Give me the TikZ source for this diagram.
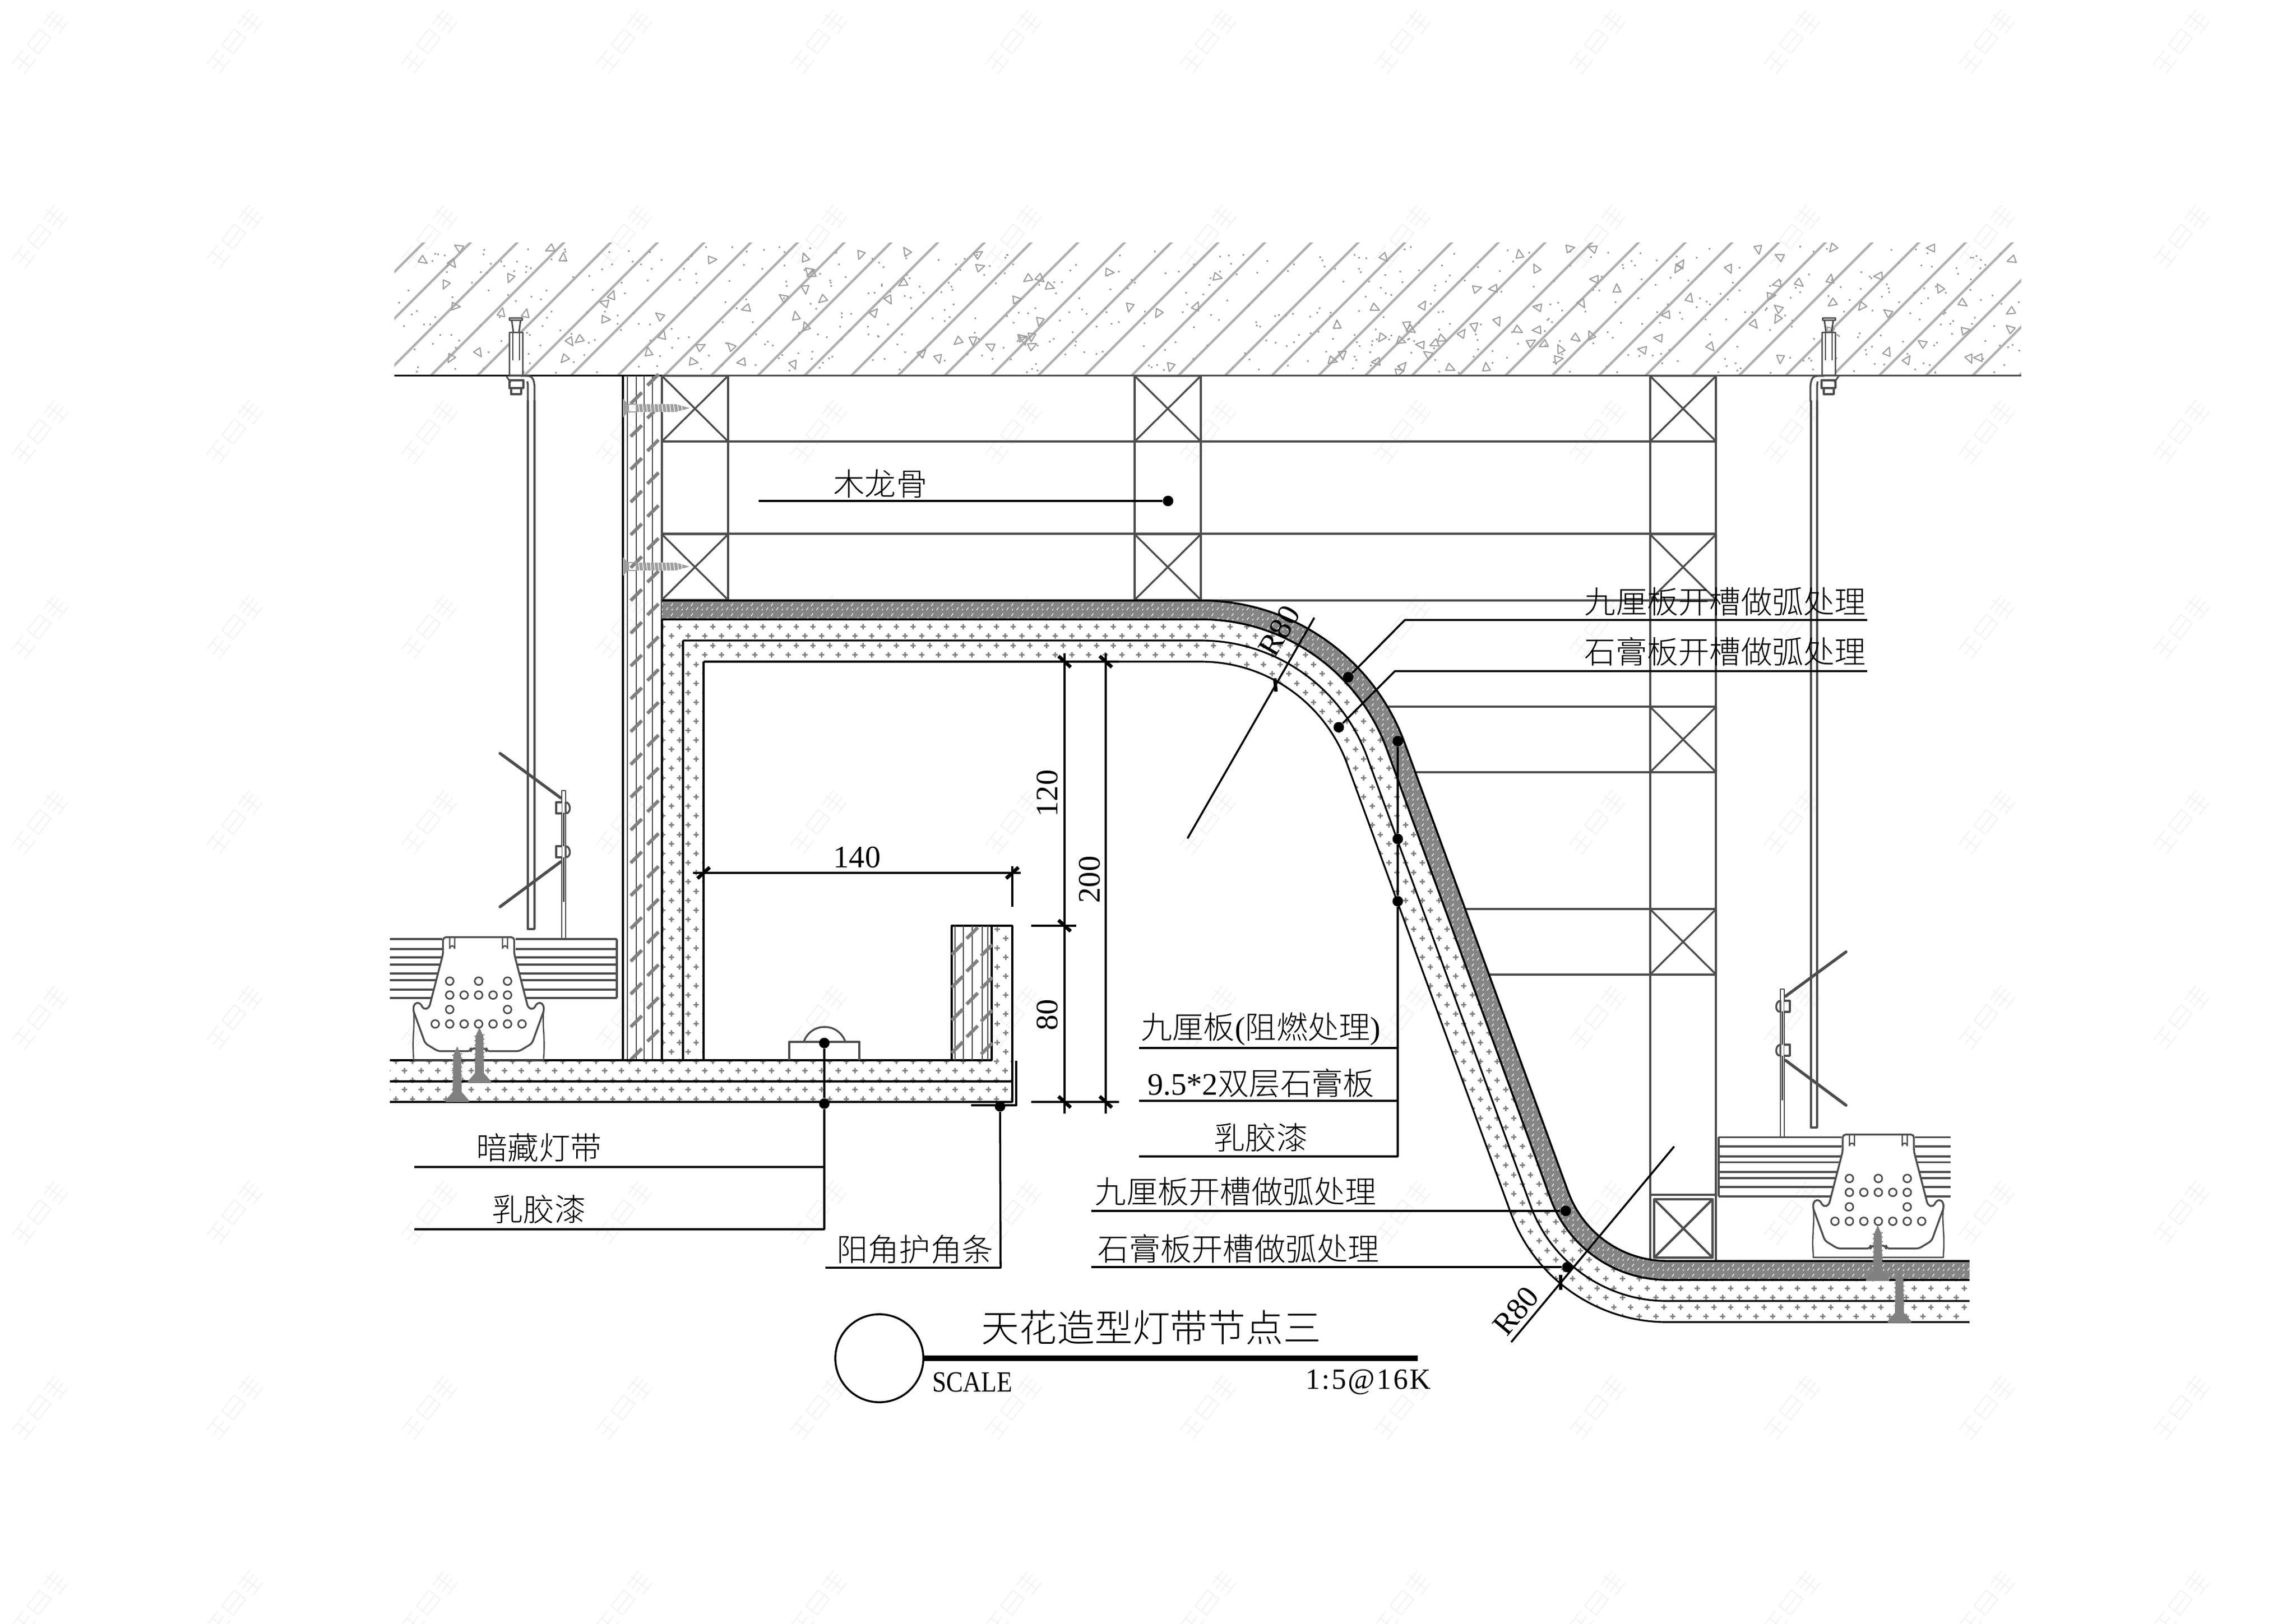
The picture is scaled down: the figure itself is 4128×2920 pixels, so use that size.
\documentclass[tikz,border=0pt]{standalone}
\usepackage{fontspec}
\usetikzlibrary{patterns}
\setmainfont{Liberation Serif}
\newfontfamily\cjk{Noto Sans CJK SC Light}
\newfontfamily\lat{Liberation Serif}
\newfontfamily\latsp[LetterSpace=6]{Liberation Serif}
\definecolor{stud}{HTML}{4D4D4D}
\definecolor{hatchg}{HTML}{B0B0B0}
\definecolor{plusg}{HTML}{808080}
\definecolor{bandg}{HTML}{858585}
\definecolor{wmk}{HTML}{F2F2F2}
\pgfdeclarepatternformonly{gypplus}{\pgfqpoint{0pt}{0pt}}{\pgfqpoint{8.536pt}{9.674pt}}{\pgfqpoint{8.536pt}{9.674pt}}{%
  \pgfsetlinewidth{0.8pt}
  \pgfpathmoveto{\pgfqpoint{0.7pt}{2.4pt}}\pgfpathlineto{\pgfqpoint{3.5pt}{2.4pt}}
  \pgfpathmoveto{\pgfqpoint{2.1pt}{1.0pt}}\pgfpathlineto{\pgfqpoint{2.1pt}{3.8pt}}
  \pgfpathmoveto{\pgfqpoint{4.97pt}{7.24pt}}\pgfpathlineto{\pgfqpoint{7.77pt}{7.24pt}}
  \pgfpathmoveto{\pgfqpoint{6.37pt}{5.84pt}}\pgfpathlineto{\pgfqpoint{6.37pt}{8.64pt}}
  \pgfusepath{stroke}}
\pgfdeclarepatternformonly{bandfleck}{\pgfqpoint{0pt}{0pt}}{\pgfqpoint{5pt}{5pt}}{\pgfqpoint{5pt}{5pt}}{%
  \pgfsetlinewidth{0.35pt}
  \pgfpathmoveto{\pgfqpoint{0.5pt}{0.5pt}}\pgfpathlineto{\pgfqpoint{1.5pt}{1.9pt}}
  \pgfpathmoveto{\pgfqpoint{3.0pt}{2.6pt}}\pgfpathlineto{\pgfqpoint{4.0pt}{4.0pt}}
  \pgfpathmoveto{\pgfqpoint{3.4pt}{0.4pt}}\pgfpathlineto{\pgfqpoint{3.9pt}{1.1pt}}
  \pgfusepath{stroke}}
% S-curve at offset #2, starting at x=#1
\newcommand\Sf[2]{(#1,{1080+#2}) -- (2159,{1080+#2}) arc[start angle=-90,end angle=-20,radius={390-#2}] -- ({2997+(189+#2)*cos(160)},{2079+(189+#2)*sin(160)}) arc[start angle=160,end angle=90,radius={189+#2}] -- (3541,{2268+#2})}
\newcommand\Sr[2]{(3541,{2268+#2}) -- (2997,{2268+#2}) arc[start angle=90,end angle=160,radius={189+#2}] -- ({2159+(390-#2)*cos(-20)},{1470+(390-#2)*sin(-20)}) arc[start angle=-20,end angle=-90,radius={390-#2}] -- (#1,{1080+#2})}
\newcommand\vscrew[3]{%
  \fill[plusg] (#1,#2) -- ({#1+7},{#2+16}) -- ({#1+8},{#3-18}) -- ({#1+21},{#3-3}) -- ({#1+21},#3) -- ({#1-21},#3) -- ({#1-21},{#3-3}) -- ({#1-8},{#3-18}) -- ({#1-7},{#2+16}) -- cycle;
  \foreach \k in {8,16,...,60}{\draw[plusg,line width=.5pt] ({#1-9},{#2+\k+8}) -- ({#1+9},{#2+\k+5});}
}
\newcommand\hscrew[1]{%
  \fill[hatchg!90!black] (1120,{#1-17}) -- (1130,{#1-6}) -- (1130,{#1+6}) -- (1120,{#1+17}) -- cycle;
  \draw[hatchg!90!black,line width=.7pt] (1130,{#1-7}) rectangle (1144,{#1+7});
  \fill[hatchg!90!black] (1144,{#1-7}) -- (1215,{#1-7}) -- (1240,#1) -- (1215,{#1+7}) -- (1144,{#1+7}) -- cycle;
  \foreach \k in {1148,1155,...,1225}{\draw[white,line width=.35pt] (\k,{#1-8}) -- ({\k+2},{#1+8});}
}
\newcommand\woodflecks[4]{% x, ystart, yend, period
  \pgfmathtruncatemacro\yysec{#2+#4}
  \foreach \yy in {#2,\yysec,...,#3}{\draw[plusg,line width=1.7pt] ({#1-10},{\yy+10}) -- ({#1+10},{\yy-10});}
}
\newcommand\dimtickb[2]{\draw[line width=1.8pt] ({#1-11},{#2-10}) -- ({#1+11},{#2+10});}
\newcommand\dimtickf[2]{\draw[line width=1.8pt] ({#1-11},{#2+10}) -- ({#1+11},{#2-10});}
\tikzset{
  blk/.style={black,line width=1pt},
  gry/.style={stud,line width=.95pt},
  spk/.style={hatchg!90!black,line width=.6pt},
  dot/.style={circle,fill=black,draw=none,minimum size=5.4pt,inner sep=0pt},
  cn/.style={font=\cjk\fontsize{16}{16}\selectfont,inner sep=0pt,text=black},
  num/.style={font=\lat\fontsize{16}{16}\selectfont,inner sep=0pt,text=black},
  pics/xstud/.style={code={\draw[gry] (-59.5,-59) rectangle (59.5,59) (-59.5,-59) -- (59.5,59) (-59.5,59) -- (59.5,-59);}},
  pics/watermark/.style={code={
    \draw[wmk,line width=.5pt] (-62,-14) -- (-30,-14) (-62,0) -- (-30,0) (-62,14) -- (-30,14) (-46,-14) -- (-46,14)
      (-18,-14) -- (18,-14) -- (18,12) -- (-18,12) -- cycle (-18,0) -- (18,0)
      (30,-14) -- (62,-14) (30,-4) -- (62,-4) (30,6) -- (62,6) (46,-20) -- (46,18) (32,18) -- (60,18);}},
  pics/channel/.style={code={
    \fill[white] (-66,0) rectangle (66,205);
    \draw[gry,fill=white,rounded corners=1.5pt] (-64,0) -- (-64,30) -- (-89,127) -- (-99,130) -- (-105,118) -- (-115,118) -- (-118,130) -- (-96,191) -- (-73,205) -- (-14,205) -- (-14,200) -- (14,200) -- (14,205) -- (73,205) -- (96,191) -- (118,130) -- (115,118) -- (105,118) -- (99,130) -- (89,127) -- (64,30) -- (64,0) -- cycle;
    \draw[gry,line width=.7pt] (-52,0) -- (-52,20) arc[start angle=180,end angle=360,radius=4.5] -- (-43,0) (43,0) -- (43,20) arc[start angle=180,end angle=360,radius=4.5] -- (52,0);
    \draw[gry,line width=.7pt] (-117,132) .. controls (-114,160) and (-120,180) .. (-117,215) -- (-117,221) -- (117,221) -- (117,215) .. controls (120,180) and (114,160) .. (117,132);
    \foreach \hx/\hy in {-52/79,0/79,52/79,-52/104,-26/104,0/104,26/104,52/104,-52/130,52/130,-78/156,-52/156,-26/156,0/156,26/156,52/156,78/156}{
      \draw[gry,line width=.8pt] (\hx,\hy) circle[radius=7];}
  }},
  pics/bolt/.style={code={
    \draw[gry,line width=.8pt,fill=white] (-12,0) rectangle (11,4) (-8,4) -- (-5,26) (8,4) -- (5,26) (-12,26) rectangle (12,103);
    \draw[gry,line width=.8pt] (-6,26) -- (-6,76) (6,26) -- (6,76);
    \draw[gry,fill=white] (-12,112) rectangle (13,126) (-9,126) rectangle (9,137);
    \draw[gry,line width=.8pt] (-18,104) -- (-10,116);
    \draw[gry] (8,104) -- (20,104) .. controls (30,104) and (32,112) .. (33,122) -- (33,150) (20,114) .. controls (21,118) .. (21,126) -- (21,150);
  }},
  pics/hangerclip/.style={code={
    \draw[stud,line width=.8pt,fill=white] (0,0) rectangle (7,266);
    \foreach \cy in {31,110}{
      \draw[gry,fill=white] (0,{\cy-10}) -- (-10,{\cy-10}) -- (-10,{\cy+10}) -- (0,{\cy+10});
      \draw[gry,fill=white] (7,{\cy-10}) .. controls (16,{\cy-10}) and (18,{\cy+10}) .. (7,{\cy+10}) -- cycle;
    }
    \draw[stud,line width=1.5pt,line cap=round] (-2,13) -- (-111,-67) (-2,128) -- (-111,209);
    \draw[gry,line width=.8pt] (3.5,40) -- (3.5,100) (3.5,120) -- (3.5,200);
  }}
}
\begin{document}
\begin{tikzpicture}[x=0.01cm,y=-0.01cm,line join=round]
\useasboundingbox (0,0) rectangle (4128,2920);
\fill[white] (0,0) rectangle (4128,2920);
% watermarks
\foreach \i in {0,...,11}{\foreach \j in {0,...,8}{
  \pic[rotate=52] at ({71+350*\i},{75+351*\j}) {watermark};
}}
% concrete
\begin{scope}
\clip (709,436) rectangle (3634,675.5);
\foreach \i in {-3,...,36}{\draw[hatchg,line width=1.2pt] ({774+84*\i},676) -- ({774+84*\i+245},431);}
\pgfmathsetseed{7321}
\foreach \i in {1,...,140}{
  \pgfmathsetmacro\xx{712+rnd*2920}\pgfmathsetmacro\yy{442+rnd*228}\pgfmathsetmacro\rr{rnd*360}
  \draw[spk,shift={(\xx,\yy)},rotate=\rr] (-6,-7) -- (9,0) -- (-6,7) -- cycle;
}
\foreach \i in {1,...,620}{
  \pgfmathsetmacro\xx{712+rnd*2920}\pgfmathsetmacro\yy{442+rnd*228}
  \fill[hatchg!90!black] (\xx,\yy) rectangle ++(3,3);
}
\end{scope}
\draw[black,line width=1.1pt] (709,675.5) -- (1190,675.5);
\draw[stud,line width=1pt] (1190,675.5) -- (3634,675.5);
% studs
\foreach \yy in {794,960,1080}{\draw[gry] (1190,\yy) -- (3085,\yy);}
\draw[gry] (1309,676) -- (1309,1080) (2040,676) -- (2040,1080) (2159,676) -- (2159,1080) (2967,676) -- (2967,2267) (3085,676) -- (3085,2267);
\foreach \xs/\yy in {2494/1271,2544/1389,2634/1635,2677/1753}{\draw[gry] (\xs,\yy) -- (3085,\yy);}
\draw[gry] (2967,2149) -- (3085,2149);
\foreach \cx/\cy in {1249.5/735,1249.5/1020,2099.5/735,2099.5/1020,3026/735,3026/1020}{\pic at (\cx,\cy) {xstud};}
\foreach \cy in {1330,1694}{\pic at (3026,\cy) {xstud};}
\draw[stud,line width=1.2pt] (2974,2157) rectangle (3079,2262) (2974,2157) -- (3079,2262) (2974,2262) -- (3079,2157);
% left wall panel
\foreach \xx in {1128,1144,1158,1173}{\draw[gry,line width=.8pt] (\xx,676) -- (\xx,1907);}
\draw[blk] (1120,676) -- (1120,1907);
\draw[gry,line width=1.1pt] (1190,676) -- (1190,1114);
\woodflecks{1144}{716}{1900}{59}
\woodflecks{1174}{683}{1900}{59}
\hscrew{734}
\hscrew{1019}
% S-curve layers
\fill[bandg] \Sf{1190}{0} -- \Sr{1190}{34} -- cycle;
\path[pattern=bandfleck,pattern color=white] \Sf{1190}{0} -- \Sr{1190}{34} -- cycle;
\fill[white] \Sf{1190}{34} -- \Sr{1265}{110} -- (1265,1907) -- (1190,1907) -- cycle;
\path[pattern=gypplus,pattern color=plusg] \Sf{1190}{34} -- \Sr{1265}{110} -- (1265,1907) -- (1190,1907) -- cycle;
\draw[black,line width=1pt] \Sf{1190}{0};
\draw[black,line width=1pt] \Sf{1190}{34};
\draw[blk,line width=.9pt] \Sf{1228}{72};
\draw[blk,line width=.9pt] \Sf{1265}{110};
\draw[blk] (1190,1114) -- (1190,1907) (1228,1152) -- (1228,1907) (1265,1190) -- (1265,1907);
% lower soffit and upstand
\path[pattern=gypplus,pattern color=plusg] (701,1907) rectangle (1820,1982);
\path[pattern=gypplus,pattern color=plusg] (1783,1665) rectangle (1820,1907);
\draw[blk] (701,1907) -- (1783,1907) -- (1783,1665);
\draw[blk,line width=.9pt] (701,1945) -- (1820,1945);
\draw[blk] (701,1982) -- (1820,1982) -- (1820,1665) -- (1711,1665) -- (1711,1907);
\foreach \xx in {1717,1732,1748,1766,1776}{\draw[gry,line width=.7pt] (\xx,1665) -- (\xx,1907);}
\woodflecks{1721}{1707}{1900}{59}
\woodflecks{1748}{1678}{1900}{59}
\woodflecks{1774}{1709}{1900}{59}
% lamp
\draw[gry] (1419,1907) -- (1419,1874) -- (1545,1874) -- (1545,1907);
\draw[gry] (1445,1874) .. controls (1458,1838) and (1507,1838) .. (1520,1874);
% bead
\draw[blk,line width=.9pt] (1827,1908) -- (1827,1988) -- (1746,1988);
% hangers
\pic at (928,572) {bolt};
\pic[xscale=-1] at (3288,572) {bolt};
\draw[gry] (949,720) -- (949,1671) -- (961,1671) -- (961,720);
\draw[gry] (3256,720) -- (3256,2028) -- (3267,2028) -- (3267,720);
\pic at (1010,1422) {hangerclip};
\pic[xscale=-1] at (3208,1779) {hangerclip};
% channels
\foreach \yy in {1689,1707,1722,1735,1751,1763,1780,1795}{\draw[gry] (701,\yy) -- (1109,\yy);}
\draw[gry] (1109,1689) -- (1109,1795);
\pic at (860.5,1685.7) {channel};
\foreach \yy in {2045.5,2062,2080,2090.5,2108,2119,2135,2152}{\draw[gry] (3090,\yy) -- (3507,\yy);}
\draw[gry] (3090,2045) -- (3090,2152);
\pic[xscale=-1] at (3377,2040.6) {channel};
\vscrew{822}{1882}{1982}
\vscrew{862}{1848}{1948}
\vscrew{3376}{2204}{2304}
\vscrew{3415}{2284}{2379}
% dimensions
\coordinate (d140a) at (1246,1570);\coordinate (d140b) at (1835,1570);
\draw[blk] (d140a) -- (d140b);
\draw[blk] (1820,1558) -- (1820,1631);
\dimtickf{1265}{1570}\dimtickf{1820}{1570}
\coordinate (d1a) at (1914,1175);\coordinate (d1b) at (1914,2003);
\coordinate (d2a) at (1988,1175);\coordinate (d2b) at (1988,2003);
\draw[blk] (d1a) -- (d1b);
\draw[blk] (d2a) -- (d2b);
\draw[blk] (1854,1665) -- (1935,1665) (1854,1982) -- (2012,1982);
\draw[blk] (1265,1190) -- (2012,1190);
\dimtickb{1914}{1190}\dimtickb{1914}{1665}\dimtickb{1914}{1982}\dimtickb{1988}{1190}\dimtickb{1988}{1982}
\node[num] (t140) at (1541,1542) {140};
\node[num,rotate=90] (t120) at (1883,1427) {120};
\node[num,rotate=90] (t200) at (1959,1582) {200};
\node[num,rotate=90] (t80) at (1883,1825) {80};
% R80
\coordinate (ra) at (2135,1508);\coordinate (rb) at (2363,1111);
\draw[blk] (ra) -- (rb);
\draw[line width=1.8pt] (2292,1220) -- (2294,1244);
\node[num,rotate=60] (r1) at (2300,1135) {R80};
\coordinate (rc) at (2717,2414);\coordinate (rd) at (3010,2062);
\draw[blk] (rc) -- (rd);
\draw[line width=1.8pt] (2806,2293) -- (2806,2320);
\node[num,rotate=50] (r2) at (2725,2358) {R80};
% leaders
\node[dot] (m1) at (2100,901) {};
\coordinate (m1e) at (1364,901);
\node[cn] (tm) at (1583,870) {木龙骨};
\draw[blk] (m1e) -- (m1);
\node[dot] (a1) at (2424,1218) {};
\coordinate (a1k) at (2526,1115);\coordinate (a1e) at (3357,1115);
\draw[blk] (a1) -- (a1k) -- (a1e);
\node[dot] (a2) at (2407,1308) {};
\coordinate (a2k) at (2508,1207);\coordinate (a2e) at (3357,1207);
\draw[blk] (a2) -- (a2k) -- (a2e);
\node[cn] (ta1) at (3102,1082) {九厘板开槽做弧处理};
\node[cn] (ta2) at (3102,1172) {石膏板开槽做弧处理};
\node[dot] (b1) at (2513,1333) {};
\node[dot] (b2) at (2513,1509) {};
\node[dot] (b3) at (2513,1621) {};
\coordinate (bk) at (2513,2080);
\coordinate (be1) at (2048,1885);\coordinate (bk1) at (2513,1885);
\coordinate (be2) at (2048,1980);\coordinate (bk2) at (2513,1980);
\coordinate (be3) at (2048,2080);
\draw[blk] (b1) -- (b2) -- (b3) -- (bk) -- (be3);
\draw[blk] (bk1) -- (be1);
\draw[blk] (bk2) -- (be2);
\node[cn] (tb1) at (2267,1851) {九厘板{\lat(}阻燃处理{\lat)}};
\node[cn] (tb2) at (2267,1948) {{\lat 9.5*2}双层石膏板};
\node[cn] (tb3) at (2267,2046) {乳胶漆};
\node[dot] (c1) at (2815,2178) {};
\node[dot] (c2) at (2818,2279) {};
\coordinate (ce1) at (1962,2178);\coordinate (ce2) at (1962,2279);
\draw[blk] (ce1) -- (c1);
\draw[blk] (ce2) -- (c2);
\node[cn] (tc1) at (2222,2143) {九厘板开槽做弧处理};
\node[cn] (tc2) at (2227,2246) {石膏板开槽做弧处理};
\node[dot] (l1) at (1482,1876) {};
\node[dot] (l2) at (1482,1985) {};
\coordinate (lk1) at (1482,2099);\coordinate (le1) at (745,2099);
\coordinate (lk2) at (1482,2211);\coordinate (le2) at (745,2211);
\draw[blk] (l1) -- (l2) -- (lk2) -- (le2);
\draw[blk] (lk1) -- (le1);
\node[cn] (tl1) at (969,2064) {暗藏灯带};
\node[cn] (tl2) at (969,2175) {乳胶漆};
\node[dot] (k1) at (1798,1990) {};
\coordinate (kk) at (1799,2280);\coordinate (ke) at (1484,2280);
\draw[blk] (k1) -- (kk) -- (ke);
\node[cn] (tk) at (1645,2247) {阳角护角条};
% title
\node[circle,draw=black,line width=1pt,minimum size=45pt,inner sep=0pt] (tc) at (1581,2443) {};
\coordinate (te) at (2549,2443);
\draw[black,line width=2.8pt] (tc.east) -- (te);
\node[cn,font=\cjk\fontsize{19.3}{19.3}\selectfont] (tt) at (2070,2388) {天花造型灯带节点三};
\node[num,font=\lat\fontsize{15}{15}\selectfont] (ts) at (1748,2486) {\scalebox{.86}[1]{SCALE}};
\node[num,font=\latsp\fontsize{15}{15}\selectfont] (tr) at (2460,2486) {1:5@16K};
\end{tikzpicture}
\end{document}
